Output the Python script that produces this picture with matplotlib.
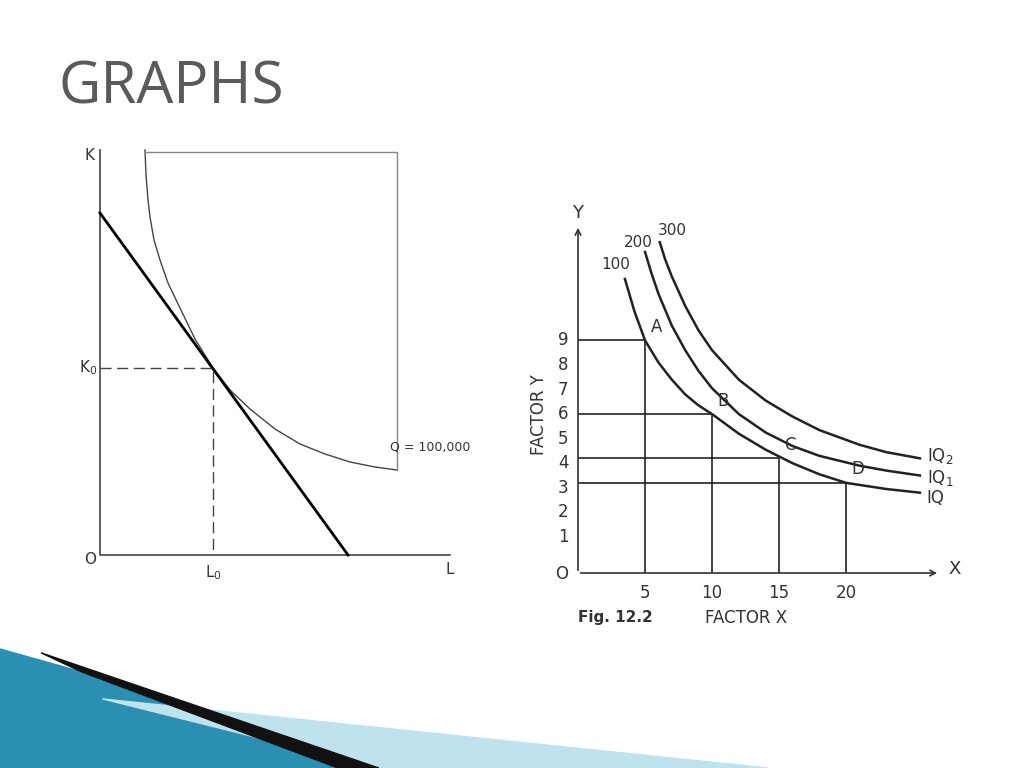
import matplotlib.pyplot as plt
from matplotlib.patches import Polygon

# left graph (units ~ pixels from origin)
iso_x = [45, 46, 48, 50, 54, 60, 68, 80, 95, 113, 130, 150, 175, 200, 225, 250, 275, 297]
iso_y = [405, 380, 355, 338, 315, 295, 272, 247, 216, 187, 165, 146, 126, 111, 101, 93, 88, 85]
budget_x = [0, 248]
budget_y = [342, 0]
L0, K0 = 113, 187

# right graph
iq_x = [3.5, 4.2, 5, 6, 7, 8, 9, 10, 12, 14, 16, 18, 20, 23, 25.5]
iq_y = [11.5, 10.2, 9.0, 8.1, 7.4, 6.8, 6.35, 6.0, 5.2, 4.55, 4.0, 3.55, 3.2, 2.95, 2.8]
iq1_x = [5, 5.5, 6, 7, 8, 9, 10, 12, 14, 16, 18, 21, 23, 25.5]
iq1_y = [12.6, 11.7, 10.9, 9.6, 8.6, 7.75, 7.05, 6.0, 5.25, 4.7, 4.3, 3.9, 3.7, 3.5]
iq2_x = [6.1, 6.5, 7, 8, 9, 10, 12, 14, 16, 18, 21, 23, 25.5]
iq2_y = [13.0, 12.3, 11.6, 10.4, 9.4, 8.6, 7.4, 6.55, 5.9, 5.35, 4.75, 4.45, 4.2]
pts_x = [5, 10, 15, 20]
pts_y = [9, 6, 4.2, 3.2]
pts_lab = ["A", "B", "C", "D"]
yticks = [1, 2, 3, 4, 5, 6, 7, 8, 9]

fig = plt.figure(figsize=(10.24, 7.68), dpi=100)
fig.text(58/1024, 1-88/768, "GRAPHS", fontsize=42, color="#5a5a5a",
         family="Open Sans", va="center")

# swoosh decoration
bg = fig.add_axes([0, 0, 1, 1]); bg.axis("off"); bg.set_xlim(0, 1); bg.set_ylim(0, 1)
bg.add_patch(Polygon([(0, 0), (0, 0.155), (0.12, 0.11), (0.37, 0)], color="#2a8fb0"))
bg.add_patch(Polygon([(0.1, 0.09), (0.75, 0), (0.37, 0)], color="#bfe3ee"))
bg.add_patch(Polygon([(0.04, 0.15), (0.37, 0.0), (0.33, 0.0), (0.08, 0.125)], color="#111111"))

# left axes
ax = fig.add_axes([100/1024, 213/768, 350/1024, 405/768])
ax.axis("off"); ax.set_xlim(0, 350); ax.set_ylim(0, 405)
ax.plot([0, 0, 350], [405, 0, 0], color="#444", lw=1.2, clip_on=False)
ax.plot(iso_x, iso_y, color="#444", lw=1, clip_on=False)
ax.plot([45, 297, 297], [403, 403, 85], color="#888", lw=1, clip_on=False)
ax.plot(budget_x, budget_y, color="black", lw=2, clip_on=False)
ax.plot([0, L0, L0], [K0, K0, 0], color="#444", lw=1, ls=(0, (8, 4)))
kw = dict(fontsize=11, color="#333", clip_on=False)
ax.text(-10, 395, "K", ha="center", **kw)
ax.text(-12, K0, "K$_0$", ha="center", va="center", **kw)
ax.text(-10, -5, "O", ha="center", va="center", **kw)
ax.text(L0, -18, "L$_0$", ha="center", va="center", **kw)
ax.text(350, -15, "L", ha="center", va="center", **kw)
ax.text(290, 105, "Q = 100,000", fontsize=9, color="#333", clip_on=False)

# right axes
ax2 = fig.add_axes([578/1024, 195/768, 362/1024, 348/768])
ax2.axis("off"); ax2.set_xlim(0, 27); ax2.set_ylim(-0.47, 13.7)
ax2.annotate("", xy=(27, -0.47), xytext=(0, -0.47),
             arrowprops=dict(arrowstyle="->", color="#333", lw=1.2))
ax2.annotate("", xy=(0, 13.7), xytext=(0, -0.47),
             arrowprops=dict(arrowstyle="->", color="#333", lw=1.2))
for x, l in zip([iq_x, iq1_x, iq2_x], [iq_y, iq1_y, iq2_y]):
    ax2.plot(x, l, color="#222", lw=1.8)
for x, y, s in zip(pts_x, pts_y, pts_lab):
    ax2.plot([0, x, x], [y, y, -0.47], color="#222", lw=1.2)
    ax2.text(x + 0.4, y + 0.35, s, fontsize=12, color="#333")
for y in yticks:
    ax2.text(-0.7, y, str(y), ha="right", va="center", fontsize=12, color="#333")
for x in pts_x:
    ax2.text(x, -1.3, str(x), ha="center", va="center", fontsize=12, color="#333")
ax2.text(-0.7, -0.5, "O", ha="right", va="center", fontsize=12, color="#333")
ax2.text(27.6, -0.3, "X", va="center", fontsize=13, color="#333")
ax2.text(0, 14.2, "Y", ha="center", va="center", fontsize=13, color="#333")
ax2.text(2.8, 11.9, "100", ha="center", fontsize=11, color="#333")
ax2.text(4.5, 12.8, "200", ha="center", fontsize=11, color="#333")
ax2.text(7.0, 13.3, "300", ha="center", fontsize=11, color="#333")
ax2.text(26, 2.6, "IQ", va="center", fontsize=12, color="#333")
ax2.text(26, 3.4, "IQ$_1$", va="center", fontsize=12, color="#333")
ax2.text(26, 4.3, "IQ$_2$", va="center", fontsize=12, color="#333")
ax2.text(-2.9, 6, "FACTOR Y", rotation=90, ha="center", va="center", fontsize=12, color="#333")
ax2.text(0, -2.3, "Fig. 12.2", fontsize=11, fontweight="bold", color="#333", va="center")
ax2.text(9.5, -2.3, "FACTOR X", fontsize=12, color="#333", va="center")

fig.savefig("out.png", dpi=100)
